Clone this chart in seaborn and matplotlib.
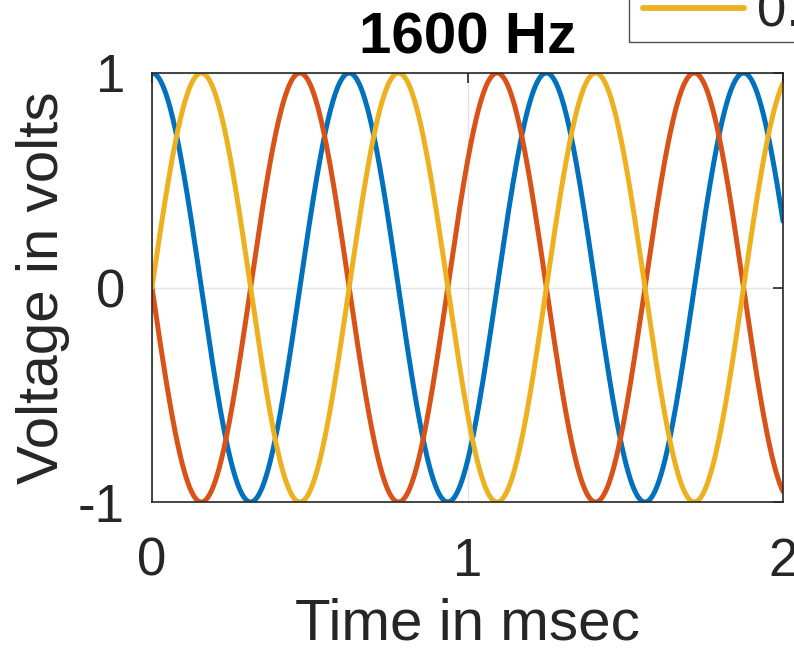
import numpy as np
import pandas as pd
import matplotlib
matplotlib.use("Agg")
import matplotlib.pyplot as plt
from matplotlib.legend_handler import HandlerLine2D
import seaborn as sns

# ---- data ----
title_text = "1600 Hz"
freq_hz = 1600                      # from the title
series_labels = ["0.00", "0.25", "0.75"]   # phase offsets (cycles); only "0." visible
phase_cycles = [0.0, 0.25, -0.25]          # blue = cos, orange = -sin, yellow = sin
amplitude_v = [1.0, 1.0, 1.0]
series_colors = ["#0072BD", "#D95319", "#EDB120"]
x_ticks = [0, 1, 2]
y_ticks = [-1, 0, 1]
x_label = "Time in msec"
y_label = "Voltage in volts"

# sample grid (msec)
t_ms = np.linspace(0, 2, 1201)
frames = []
for lab, ph, amp in zip(series_labels, phase_cycles, amplitude_v):
    v = amp * np.cos(2 * np.pi * (freq_hz * t_ms / 1000.0 + ph))
    frames.append(pd.DataFrame({"t": t_ms, "v": v, "series": lab}))
df = pd.concat(frames, ignore_index=True)

sns.set_theme(style="white")
plt.rcParams["font.family"] = ["Liberation Sans", "DejaVu Sans"]
axc = "#262626"

fig = plt.figure(figsize=(7.94, 6.49), dpi=100)
ax = fig.add_axes([152 / 794, 1 - 502 / 649, (783 - 152) / 794, (502 - 73) / 649])

sns.lineplot(data=df, x="t", y="v", hue="series", hue_order=series_labels,
             palette=series_colors, linewidth=3.6, ax=ax, legend=False,
             estimator=None, sort=False)

ax.set_xlim(0, 2)
ax.set_ylim(-1, 1)
ax.set_xticks(x_ticks)
ax.set_yticks(y_ticks)
ax.set_xticklabels([str(v) for v in x_ticks])
ax.set_yticklabels([str(v) for v in y_ticks])
ax.grid(True, color="#262626", alpha=0.12, linewidth=1.0)
ax.set_axisbelow(True)
for s in ax.spines.values():
    s.set_visible(True)
    s.set_color(axc)
    s.set_linewidth(1.2)
ax.tick_params(axis="both", which="both", direction="in", length=7, width=1.2,
               colors=axc, labelsize=38, top=True, right=True,
               labelcolor=axc)
ax.tick_params(axis="x", pad=25)
ax.tick_params(axis="y", pad=19.5)
ax.set_xlabel(x_label, fontsize=42, color=axc, labelpad=8)
ax.set_ylabel(y_label, fontsize=42, color=axc, labelpad=6)
ax.set_title(title_text, fontsize=42, fontweight="bold", color="black", pad=14)

handles = [plt.Line2D([], [], color=c, linewidth=4.2) for c in series_colors]
leg = fig.legend(handles, series_labels, loc="lower left",
                 bbox_to_anchor=(629 / 794, 1 - 42 / 649), frameon=True,
                 fontsize=38, handlelength=2.08, borderaxespad=0, fancybox=False,
                 labelspacing=0.2, borderpad=0.09, handletextpad=0.25,
                 handler_map={plt.Line2D: HandlerLine2D(xpad=0.17)})
leg.get_frame().set_edgecolor(axc)
leg.get_frame().set_linewidth(1.0)
for txt in leg.get_texts():
    txt.set_color(axc)

fig.savefig("out.png", dpi=100)
